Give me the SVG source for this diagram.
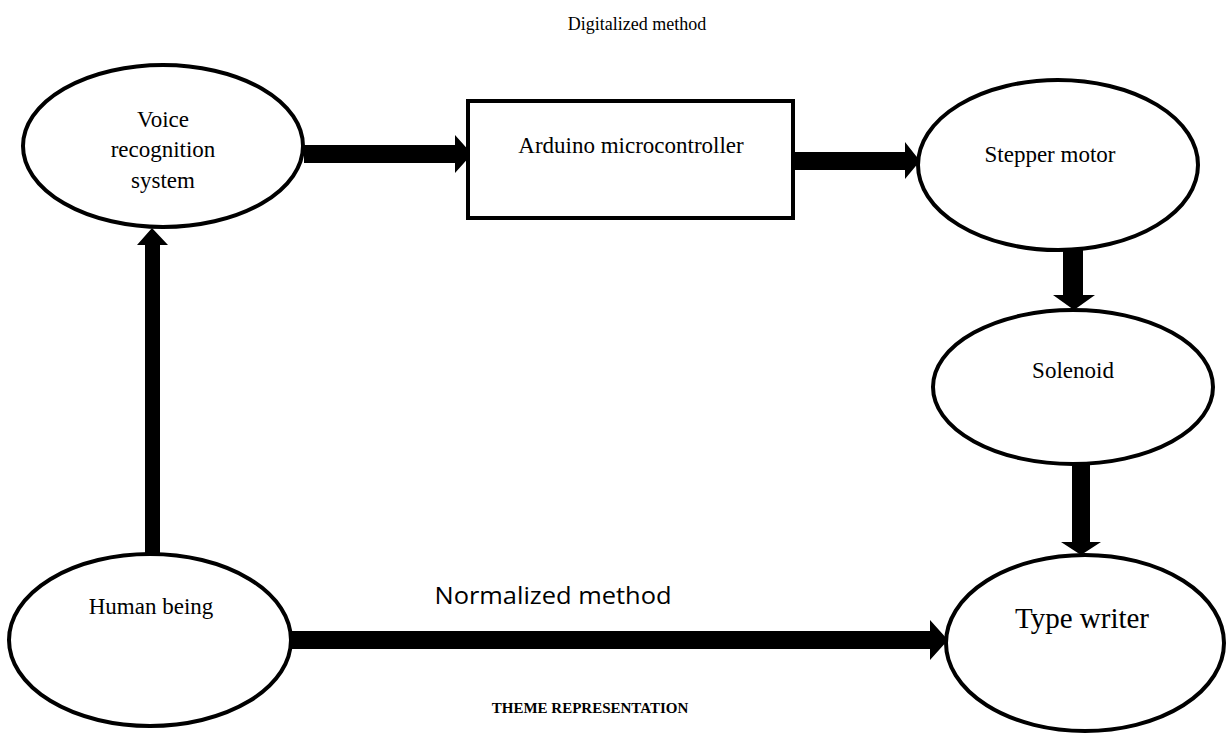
<svg xmlns="http://www.w3.org/2000/svg" width="1228" height="736" viewBox="0 0 1228 736">
<style>
.node{fill:#fff;stroke:#000;stroke-width:4}
.t{font-family:"Liberation Serif","Times New Roman",serif;font-size:23px;fill:#000;text-anchor:middle}
.arrow{fill:#000;stroke:none}
</style>
<rect width="1228" height="736" fill="#fff"/>
<text class="t" x="637" y="30" style="font-size:18px">Digitalized method</text>
<g id="connectors">
<polygon class="arrow" points="304,145 455,145 455,135 472,154 455,173 455,163 304,163"/>
<polygon class="arrow" points="793,152 905,152 905,142 920,161 905,179 905,170 793,170"/>
<polygon class="arrow" points="1063,250 1083,250 1083,295 1095,295 1074,310 1053,295 1063,295"/>
<polygon class="arrow" points="1072,463 1090,463 1090,542 1101,542 1081,555 1061,542 1072,542"/>
<polygon class="arrow" points="145,553 160,553 160,245 168,245 152,228 137,245 145,245"/>
<polygon class="arrow" points="291,631 930,631 930,620 948,640 930,660 930,649 291,649"/>
</g>
<g id="voice">
<ellipse class="node" cx="163" cy="146" rx="140" ry="81"/>
<text class="t" x="163" y="127">Voice</text>
<text class="t" x="163" y="157">recognition</text>
<text class="t" x="163" y="188">system</text>
</g>
<g id="arduino">
<rect class="node" x="468" y="101" width="325" height="117"/>
<text class="t" x="631" y="153">Arduino microcontroller</text>
</g>
<g id="stepper">
<ellipse class="node" cx="1058" cy="165" rx="140" ry="85"/>
<text class="t" x="1050" y="162">Stepper motor</text>
</g>
<g id="solenoid">
<ellipse class="node" cx="1073" cy="387" rx="140" ry="77"/>
<text class="t" x="1073" y="378">Solenoid</text>
</g>
<g id="human">
<ellipse class="node" cx="150" cy="640" rx="141" ry="86"/>
<text class="t" x="151" y="614">Human being</text>
</g>
<g id="typewriter">
<ellipse class="node" cx="1085" cy="643" rx="139" ry="88"/>
<text class="t" x="1082" y="628" style="font-size:29px">Type writer</text>
</g>
<text x="553" y="604" style="font-family:'Open Sans',sans-serif;font-size:23px;text-anchor:middle" textLength="237" lengthAdjust="spacingAndGlyphs">Normalized method</text>
<text class="t" x="590" y="713" style="font-size:15px;font-weight:bold">THEME REPRESENTATION</text>
</svg>
